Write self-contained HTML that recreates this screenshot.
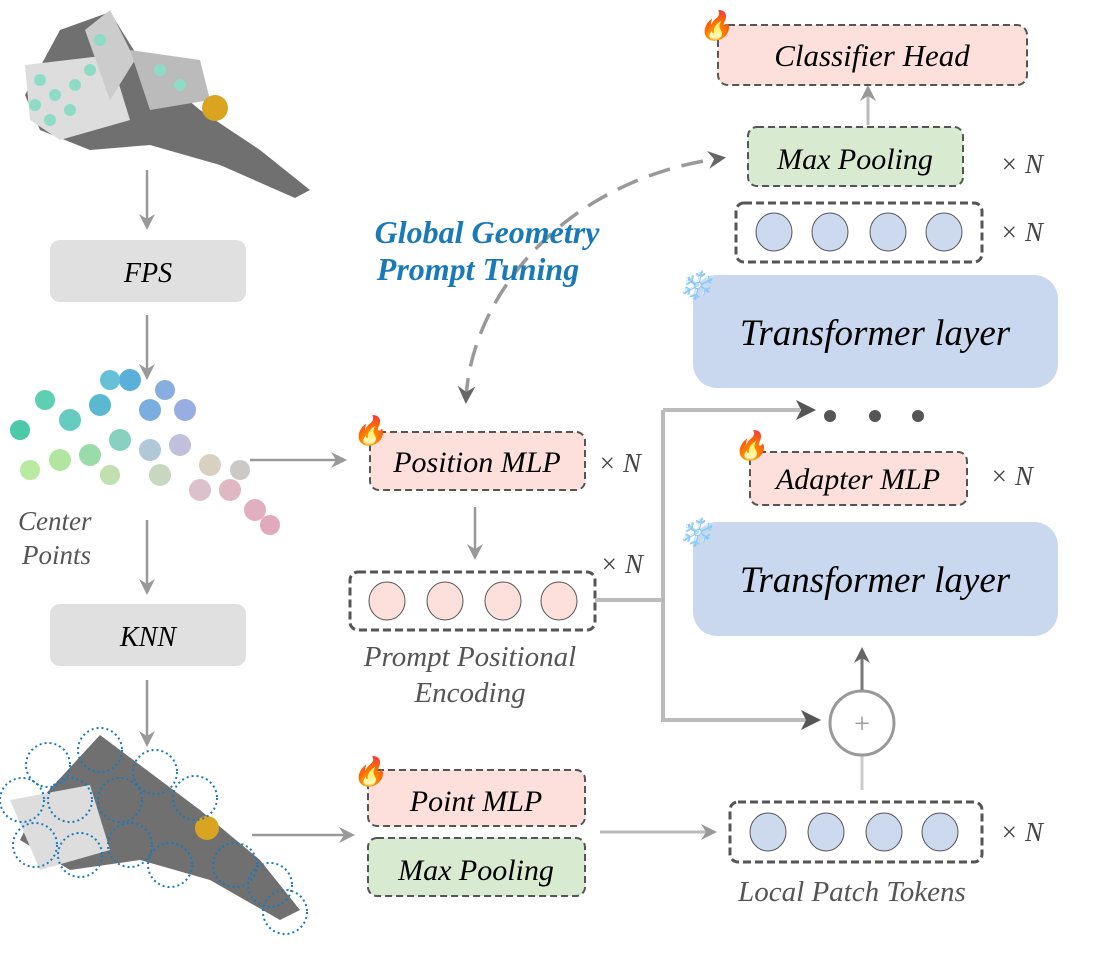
<!DOCTYPE html>
<html><head><meta charset="utf-8"><style>
html,body{margin:0;padding:0;background:#fff}
svg{display:block}
text{font-family:"Liberation Serif",serif;font-style:italic}
</style></head><body>
<svg width="1110" height="960" viewBox="0 0 1110 960" xmlns="http://www.w3.org/2000/svg">
<defs>
<marker id="ah" markerWidth="16" markerHeight="16" refX="13" refY="8" orient="auto" markerUnits="userSpaceOnUse"><path d="M0,0 L16,8 L0,16 L5,8 Z" fill="#666"/></marker>
<marker id="ahl" markerWidth="16" markerHeight="16" refX="13" refY="8" orient="auto" markerUnits="userSpaceOnUse"><path d="M0,0 L16,8 L0,16 L5,8 Z" fill="#999"/></marker>
<marker id="ahb" markerWidth="18" markerHeight="18" refX="14" refY="9" orient="auto" markerUnits="userSpaceOnUse"><path d="M0,0 L18,9 L0,18 L6,9 Z" fill="#666"/></marker>
<marker id="ahs" markerWidth="18" markerHeight="18" refX="4" refY="9" orient="auto" markerUnits="userSpaceOnUse"><path d="M18,0 L0,9 L18,18 L12,9 Z" fill="#666"/></marker>
</defs>

<!-- top plane -->
<g>
<path d="M60,30 L110,12 L140,60 L200,110 L260,150 L310,190 L295,198 L220,165 L150,145 L90,150 L40,130 L25,95 Z" fill="#707070"/>
<path d="M25,65 L110,55 L130,120 L60,140 L30,120 Z" fill="#ddd"/>
<path d="M85,30 L110,10 L135,60 L110,100 Z" fill="#ccc"/>
<path d="M130,50 L200,60 L210,100 L150,110 Z" fill="#bbb"/>
<circle cx="215" cy="108" r="13" fill="#d9a420"/>
<g fill="#8fdcc6"><circle cx="40" cy="80" r="6"/><circle cx="55" cy="95" r="6"/><circle cx="70" cy="110" r="6"/><circle cx="50" cy="120" r="6"/><circle cx="90" cy="70" r="6"/><circle cx="100" cy="40" r="6"/><circle cx="160" cy="70" r="6"/><circle cx="180" cy="85" r="6"/><circle cx="35" cy="105" r="6"/><circle cx="75" cy="85" r="6"/></g>
</g>

<!-- left flow -->
<g stroke="#999" stroke-width="2.5" fill="none" marker-end="url(#ahl)">
<line x1="147" y1="170" x2="147" y2="227"/>
<line x1="147" y1="315" x2="147" y2="377"/>
<line x1="147" y1="520" x2="147" y2="592"/>
<line x1="147" y1="680" x2="147" y2="744"/>
<line x1="250" y1="460" x2="344" y2="460"/>
<line x1="252" y1="835" x2="352" y2="835"/>
</g>
<rect x="50" y="240" width="196" height="62" rx="10" fill="#e0e0e0"/>
<text x="148" y="282" font-size="28" text-anchor="middle">FPS</text>
<rect x="50" y="604" width="196" height="62" rx="10" fill="#e0e0e0"/>
<text x="148" y="646" font-size="28" text-anchor="middle">KNN</text>

<!-- center points cloud -->
<g>
<circle cx="20" cy="430" r="10" fill="#4cc9a8"/>
<circle cx="45" cy="400" r="10" fill="#5cd0b0"/>
<circle cx="70" cy="420" r="11" fill="#66ccc0"/>
<circle cx="100" cy="405" r="11" fill="#5ab8d0"/>
<circle cx="130" cy="380" r="11" fill="#5ab0d8"/>
<circle cx="150" cy="410" r="11" fill="#7aaede"/>
<circle cx="185" cy="410" r="11" fill="#99aee0"/>
<circle cx="120" cy="440" r="11" fill="#88d0c0"/>
<circle cx="90" cy="455" r="11" fill="#99dcaa"/>
<circle cx="60" cy="460" r="11" fill="#b0e6a0"/>
<circle cx="30" cy="470" r="10" fill="#b8eaa0"/>
<circle cx="150" cy="450" r="11" fill="#b0c8d8"/>
<circle cx="180" cy="445" r="11" fill="#c0c0dc"/>
<circle cx="210" cy="465" r="11" fill="#d8d0c0"/>
<circle cx="200" cy="490" r="11" fill="#dcc0cc"/>
<circle cx="230" cy="490" r="11" fill="#e0b8c4"/>
<circle cx="255" cy="510" r="11" fill="#e0b0c0"/>
<circle cx="270" cy="525" r="10" fill="#e0aabc"/>
<circle cx="160" cy="475" r="11" fill="#c8d8c0"/>
<circle cx="110" cy="475" r="10" fill="#c0e0b0"/>
<circle cx="110" cy="380" r="10" fill="#66c0d8"/>
<circle cx="165" cy="390" r="10" fill="#88aee0"/>
<circle cx="240" cy="470" r="10" fill="#ccc8c8"/>
</g>
<text x="18" y="530" font-size="27" fill="#555">Center</text>
<text x="22" y="564" font-size="27" fill="#555">Points</text>

<!-- bottom plane -->
<g>
<path d="M40,800 L100,735 L140,765 L200,810 L260,860 L300,910 L280,920 L210,880 L140,860 L70,870 L20,840 Z" fill="#707070"/>
<path d="M10,800 L90,785 L110,850 L40,870 Z" fill="#ddd"/>
<circle cx="207" cy="828" r="12" fill="#d9a420"/>
<g fill="none" stroke="#1a7ab8" stroke-width="2" stroke-dasharray="2,3">
<circle cx="100" cy="750" r="22"/><circle cx="48" cy="765" r="22"/><circle cx="155" cy="772" r="22"/>
<circle cx="22" cy="800" r="22"/><circle cx="70" cy="800" r="22"/><circle cx="120" cy="800" r="22"/><circle cx="195" cy="798" r="22"/>
<circle cx="35" cy="845" r="22"/><circle cx="80" cy="855" r="22"/><circle cx="130" cy="845" r="22"/><circle cx="170" cy="865" r="22"/>
<circle cx="235" cy="865" r="22"/><circle cx="270" cy="885" r="22"/><circle cx="285" cy="912" r="22"/></g>
</g>

<!-- curved dashed arrow -->
<path d="M466,400 C470,300 560,180 722,158" fill="none" stroke="#999" stroke-width="3.5" stroke-dasharray="22,12" marker-end="url(#ahb)" marker-start="url(#ahs)"/>
<text x="487" y="243" font-size="32" font-weight="bold" fill="#1a7ab8" text-anchor="middle">Global Geometry</text>
<text x="478" y="280" font-size="32" font-weight="bold" fill="#1a7ab8" text-anchor="middle">Prompt Tuning</text>

<!-- Position MLP -->
<rect x="370" y="432" width="215" height="58" rx="9" fill="#fde0dc" stroke="#555" stroke-width="2" stroke-dasharray="7,4"/>
<text x="477" y="472" font-size="30" text-anchor="middle">Position MLP</text>
<text x="598" y="472" font-size="27" fill="#444">× N</text>
<text x="352" y="440" font-size="28">🔥</text>
<line x1="475" y1="507" x2="475" y2="557" stroke="#999" stroke-width="2.5" marker-end="url(#ahl)"/>

<!-- PPE -->
<rect x="350" y="572" width="245" height="58" rx="8" fill="none" stroke="#555" stroke-width="3" stroke-dasharray="8,4"/>
<g fill="#fde0dc" stroke="#555" stroke-width="1"><ellipse cx="387" cy="601" rx="18" ry="19"/><ellipse cx="445" cy="601" rx="18" ry="19"/><ellipse cx="503" cy="601" rx="18" ry="19"/><ellipse cx="559" cy="601" rx="18" ry="19"/></g>
<text x="600" y="573" font-size="27" fill="#444">× N</text>
<text x="470" y="666" font-size="29" fill="#555" text-anchor="middle">Prompt Positional</text>
<text x="470" y="702" font-size="29" fill="#555" text-anchor="middle">Encoding</text>
<g stroke="#bbb" stroke-width="4" fill="none">
<line x1="595" y1="600" x2="663" y2="600"/>
<polyline points="663,410 663,720 810,720"/>
<line x1="663" y1="410" x2="800" y2="410"/>
</g>
<path d="M796,400 L816,410 L796,420 L801,410 Z" fill="#555"/>
<path d="M801,710 L821,720 L801,730 L806,720 Z" fill="#555"/>
<g fill="#555"><circle cx="830" cy="416" r="6"/><circle cx="875" cy="416" r="6"/><circle cx="918" cy="416" r="6"/></g>

<!-- Point MLP / Max Pooling -->
<rect x="368" y="770" width="217" height="56" rx="9" fill="#fde0dc" stroke="#555" stroke-width="2" stroke-dasharray="7,4"/>
<text x="476" y="811" font-size="30" text-anchor="middle">Point MLP</text>
<text x="352" y="781" font-size="28">🔥</text>
<rect x="368" y="838" width="217" height="58" rx="9" fill="#d8ead0" stroke="#555" stroke-width="2" stroke-dasharray="7,4"/>
<text x="476" y="880" font-size="30" text-anchor="middle">Max Pooling</text>
<line x1="600" y1="832" x2="714" y2="832" stroke="#bbb" stroke-width="3" marker-end="url(#ahl)"/>

<!-- local patch tokens -->
<rect x="730" y="802" width="252" height="60" rx="8" fill="none" stroke="#555" stroke-width="3" stroke-dasharray="8,4"/>
<g fill="#cdd9ee" stroke="#555" stroke-width="1"><ellipse cx="768" cy="832" rx="18" ry="19"/><ellipse cx="826" cy="832" rx="18" ry="19"/><ellipse cx="884" cy="832" rx="18" ry="19"/><ellipse cx="940" cy="832" rx="18" ry="19"/></g>
<text x="1000" y="841" font-size="27" fill="#444">× N</text>
<text x="852" y="901" font-size="29" fill="#555" text-anchor="middle">Local Patch Tokens</text>

<!-- plus -->
<line x1="862" y1="790" x2="862" y2="756" stroke="#ccc" stroke-width="3"/>
<circle cx="862" cy="723" r="32" fill="#fff" stroke="#999" stroke-width="3"/>
<text x="862" y="733" font-size="28" fill="#999" text-anchor="middle" style="font-style:normal">+</text>
<line x1="862" y1="690" x2="862" y2="650" stroke="#777" stroke-width="3" marker-end="url(#ah)"/>

<!-- transformer 2 -->
<rect x="693" y="522" width="365" height="114" rx="24" fill="#c9d8ee"/>
<text x="875" y="592" font-size="37" text-anchor="middle">Transformer layer</text>
<text x="678" y="542" font-size="28">❄️</text>
<!-- adapter -->
<rect x="750" y="452" width="217" height="53" rx="9" fill="#fde0dc" stroke="#555" stroke-width="2" stroke-dasharray="7,4"/>
<text x="858" y="489" font-size="30" text-anchor="middle">Adapter MLP</text>
<text x="990" y="485" font-size="27" fill="#444">× N</text>
<text x="733" y="455" font-size="28">🔥</text>

<!-- transformer 1 -->
<rect x="693" y="275" width="365" height="113" rx="24" fill="#c9d8ee"/>
<text x="875" y="345" font-size="37" text-anchor="middle">Transformer layer</text>
<text x="678" y="295" font-size="28">❄️</text>

<!-- tokens top -->
<rect x="736" y="203" width="246" height="59" rx="8" fill="none" stroke="#555" stroke-width="3" stroke-dasharray="8,4"/>
<g fill="#cdd9ee" stroke="#555" stroke-width="1"><ellipse cx="774" cy="232" rx="18" ry="19"/><ellipse cx="830" cy="232" rx="18" ry="19"/><ellipse cx="888" cy="232" rx="18" ry="19"/><ellipse cx="944" cy="232" rx="18" ry="19"/></g>
<text x="1000" y="241" font-size="27" fill="#444">× N</text>

<!-- max pooling top -->
<rect x="748" y="127" width="215" height="59" rx="9" fill="#d8ead0" stroke="#555" stroke-width="2" stroke-dasharray="7,4"/>
<text x="855" y="169" font-size="30" text-anchor="middle">Max Pooling</text>
<text x="1000" y="173" font-size="27" fill="#444">× N</text>
<line x1="868" y1="125" x2="868" y2="88" stroke="#bbb" stroke-width="3" marker-end="url(#ahl)"/>

<!-- classifier -->
<rect x="718" y="25" width="309" height="60" rx="10" fill="#fde0dc" stroke="#555" stroke-width="2" stroke-dasharray="7,4"/>
<text x="872" y="66" font-size="31" text-anchor="middle">Classifier Head</text>
<text x="698" y="35" font-size="28">🔥</text>
</svg>
</body></html>
